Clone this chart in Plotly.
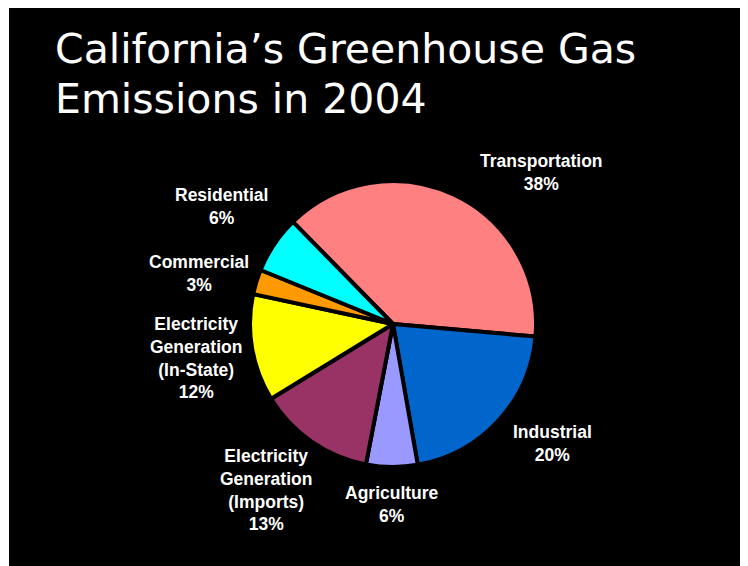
import plotly.graph_objects as go

# Data (clockwise from Transportation)
sectors = ["Transportation", "Industrial", "Agriculture",
           "Electricity Generation (Imports)", "Electricity Generation (In-State)",
           "Commercial", "Residential"]
shares = [38.7, 20.8, 5.8, 13.2, 12.1, 2.8, 6.5]
pct_labels = ["38%", "20%", "6%", "13%", "12%", "3%", "6%"]
label_lines = [["Transportation"], ["Industrial"], ["Agriculture"],
               ["Electricity", "Generation", "(Imports)"],
               ["Electricity", "Generation", "(In-State)"],
               ["Commercial"], ["Residential"]]
colors = ["#FF8080", "#0066CC", "#9999FF", "#993366", "#FFFF00", "#FF9900", "#00FFFF"]
title_lines = ["California’s Greenhouse Gas", "Emissions in 2004"]

OFF = 8                     # page body margin
W, H = 748 - OFF, 566 - OFF

def px(x):
    return (x - OFF) / W

def py(y):
    return 1 - (y - OFF) / H

# label centre positions in page pixels (x, y-centre of block)
label_pos = [(541, 173), (552, 443), (392, 504), (266, 490), (196, 358), (199, 274), (221, 206)]

cx, cy, r = 393, 324, 143

fig = go.Figure()
fig.add_trace(go.Pie(
    labels=sectors, values=shares, sort=False, direction="clockwise",
    rotation=-44.4, textinfo="none", hoverinfo="label+percent",
    marker=dict(colors=colors, line=dict(color="black", width=4)),
    domain=dict(x=[px(cx - r), px(cx + r)], y=[py(cy + r), py(cy - r)]),
    showlegend=False,
))

annotations = []
for lines, pct, (lx, ly) in zip(label_lines, pct_labels, label_pos):
    txt = "<br>".join(["<b>%s</b>" % l for l in lines + [pct]])
    annotations.append(dict(
        x=px(lx), y=py(ly), xref="paper", yref="paper",
        xanchor="center", yanchor="middle", align="center", showarrow=False,
        text=txt, font=dict(family="Liberation Sans, Arial, sans-serif", size=17.5, color="white"),
    ))

for line, ty in zip(title_lines, [22.5, 72.5]):
    annotations.append(dict(
        x=px(53), y=py(ty), xref="paper", yref="paper",
        xanchor="left", yanchor="top", align="left", showarrow=False,
        text=line,
        font=dict(family="DejaVu Sans, sans-serif", size=41, color="white"),
    ))

fig.update_layout(
    width=W, height=H,
    margin=dict(l=0, r=0, t=0, b=0),
    paper_bgcolor="white",
    plot_bgcolor="white",
    annotations=annotations,
    shapes=[dict(type="rect", xref="paper", yref="paper",
                 x0=px(9), x1=1, y0=0, y1=1,
                 fillcolor="black", line=dict(width=0), layer="below")],
)

fig.write_html("out.html")
